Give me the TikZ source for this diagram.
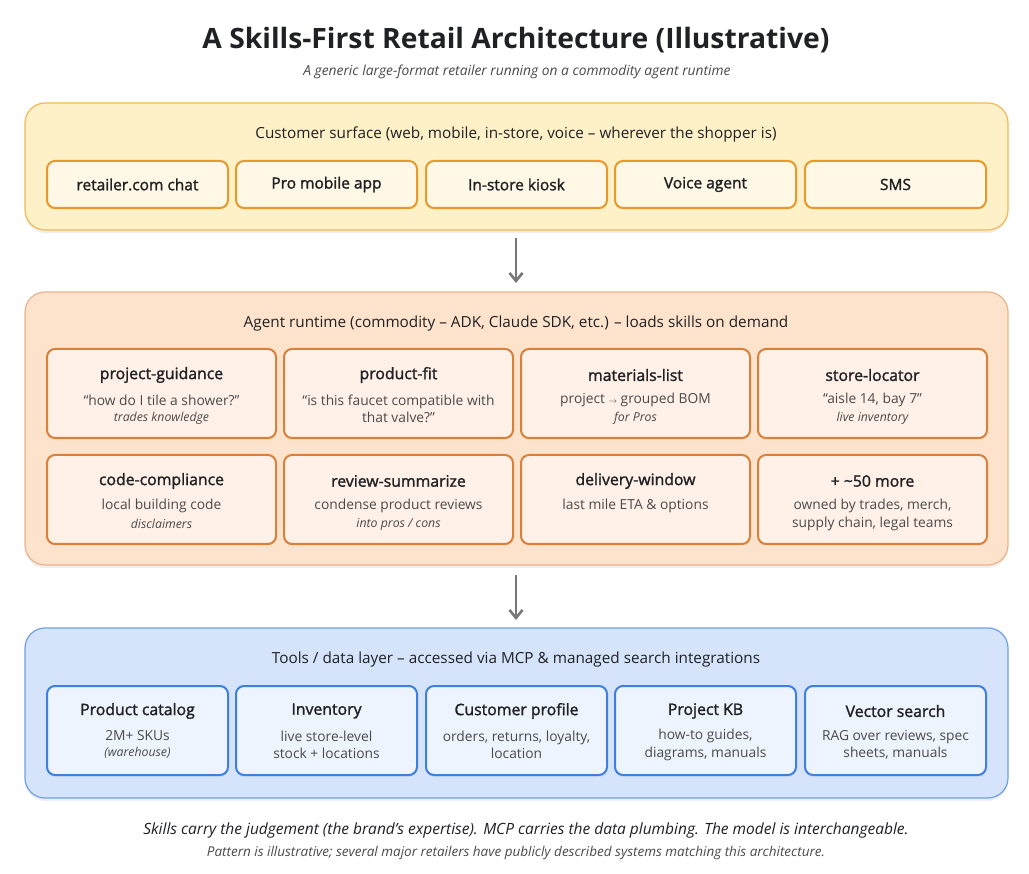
\documentclass[tikz,border=0pt]{standalone}
\usepackage{fontspec}
\setmainfont{Open Sans}
\newfontfamily\semib{Open Sans}[FakeBold=1.6]
\usetikzlibrary{shadows,arrows.meta}
\definecolor{ypanel}{HTML}{FEF0C7}
\definecolor{yline}{HTML}{F2B857}
\definecolor{ybox}{HTML}{FFF8E6}
\definecolor{yboxline}{HTML}{E69A2A}
\definecolor{opanel}{HTML}{FDE2CC}
\definecolor{oline}{HTML}{EBB389}
\definecolor{obox}{HTML}{FFF1E8}
\definecolor{oboxline}{HTML}{D9813A}
\definecolor{bpanel}{HTML}{D5E4FA}
\definecolor{bline}{HTML}{6E9FE6}
\definecolor{bbox}{HTML}{EEF4FD}
\definecolor{bboxline}{HTML}{3E7FE0}
\definecolor{txt}{HTML}{202124}
\definecolor{subtxt}{HTML}{4A4A4A}
\definecolor{arrowgray}{HTML}{777777}
\tikzset{
  panel/.style={rounded corners=20pt, line width=1.2pt, drop shadow={opacity=0.12, shadow xshift=0pt, shadow yshift=-3pt}},
  cbox/.style={rounded corners=8pt, line width=2pt, drop shadow={opacity=0.08, shadow xshift=0pt, shadow yshift=-2pt}},
  hdr/.style={font=\fontsize{15.3}{18}\selectfont, text=txt, anchor=center},
  boxtitle/.style={font=\semib\fontsize{15.8}{18}\selectfont, text=txt},
  boxsub/.style={font=\fontsize{13.8}{17.5}\selectfont, text=subtxt, align=center},
  boxit/.style={font=\itshape\fontsize{12.3}{14}\selectfont, text=subtxt},
  flowarrow/.style={draw=arrowgray, line width=2.6pt, -{Straight Barb[length=8pt,width=13pt,line width=2.6pt]}}
}
\newcommand{\ybx}[3]{\node[cbox, draw=yboxline, fill=ybox, minimum width=181pt, minimum height=47pt, font=\semib\fontsize{15.5}{17}\selectfont, text=txt] (#1) at (#2,184.5) {#3};}
\begin{document}
\begin{tikzpicture}[x=1pt,y=-1pt]
\useasboundingbox (0,0) rectangle (1029,874);
\fill[white] (0,0) rectangle (1029,874);
% title
\node[text=txt] (title) at (516,40) {\resizebox{627pt}{\height}{\bfseries\fontsize{28}{32}\selectfont A Skills-First Retail Architecture (Illustrative)}};
\node[font=\itshape\fontsize{13.8}{16}\selectfont, text=subtxt] (subtitle) at (517,72) {A generic large-format retailer running on a commodity agent runtime};
% panel 1
\draw[panel, draw=yline, fill=ypanel] (25,103) rectangle (1008,230);
\node[hdr] (h1) at (516,134) {Customer surface (web, mobile, in-store, voice -- wherever the shopper is)};
\ybx{c1}{137.5}{retailer.com chat}
\ybx{c2}{326.5}{Pro mobile app}
\ybx{c3}{516.5}{In-store kiosk}
\ybx{c4}{705.5}{Voice agent}
\ybx{c5}{895.5}{SMS}
% panel 2
\draw[panel, draw=oline, fill=opanel] (25,292) rectangle (1008,565);
\node[hdr] (h2) at (516,324) {Agent runtime (commodity -- ADK, Claude SDK, etc.) -- loads skills on demand};
\foreach \nm/\x/\y in {s1/47/349, s2/284/349, s3/521/349, s4/758/349, s5/47/455, s6/284/455, s7/521/455, s8/758/455}{
  \draw[cbox, draw=oboxline, fill=obox] (\x,\y) rectangle ++(229,89);
  \coordinate (\nm) at (\x+114.5,\y);
}
\node[boxtitle] (s1t) at ([yshift=-26pt]s1) {project-guidance};
\node[boxsub] (s1a) at ([yshift=-51pt]s1) {“how do I tile a shower?”};
\node[boxit] (s1b) at ([yshift=-69pt]s1) {trades knowledge};
\node[boxtitle] (s2t) at ([yshift=-26pt]s2) {product-fit};
\node[boxsub] (s2a) at ([yshift=-60pt]s2) {“is this faucet compatible with\\that valve?”};
\node[boxtitle] (s3t) at ([yshift=-26pt]s3) {materials-list};
\node[boxsub] (s3a) at ([yshift=-51pt]s3) {project {\fontsize{8}{10}\selectfont$\rightarrow$} grouped BOM};
\node[boxit] (s3b) at ([yshift=-69pt]s3) {for Pros};
\node[boxtitle] (s4t) at ([yshift=-26pt]s4) {store-locator};
\node[boxsub] (s4a) at ([yshift=-51pt]s4) {“aisle 14, bay 7”};
\node[boxit] (s4b) at ([yshift=-69pt]s4) {live inventory};
\node[boxtitle] (s5t) at ([yshift=-26pt]s5) {code-compliance};
\node[boxsub] (s5a) at ([yshift=-51pt]s5) {local building code};
\node[boxit] (s5b) at ([yshift=-69pt]s5) {disclaimers};
\node[boxtitle] (s6t) at ([yshift=-26pt]s6) {review-summarize};
\node[boxsub] (s6a) at ([yshift=-51pt]s6) {condense product reviews};
\node[boxit] (s6b) at ([yshift=-69pt]s6) {into pros / cons};
\node[boxtitle] (s7t) at ([yshift=-26pt]s7) {delivery-window};
\node[boxsub] (s7a) at ([yshift=-51pt]s7) {last mile ETA \& options};
\node[boxtitle] (s8t) at ([yshift=-26pt]s8) {+ \textasciitilde50 more};
\node[boxsub] (s8a) at ([yshift=-60pt]s8) {owned by trades, merch,\\supply chain, legal teams};
% panel 3
\draw[panel, draw=bline, fill=bpanel] (25,628) rectangle (1008,798);
\node[hdr] (h3) at (516,660) {Tools / data layer -- accessed via MCP \& managed search integrations};
\foreach \nm/\x in {t1/47, t2/236, t3/426, t4/615, t5/805}{
  \draw[cbox, draw=bboxline, fill=bbox] (\x,686) rectangle ++(181,89);
  \coordinate (\nm) at (\x+90.5,686);
}
\node[boxtitle] (t1t) at ([yshift=-25pt]t1) {Product catalog};
\node[boxsub] (t1a) at ([yshift=-50pt]t1) {2M+ SKUs};
\node[boxit] (t1b) at ([yshift=-67pt]t1) {(warehouse)};
\node[boxtitle] (t2t) at ([yshift=-25pt]t2) {Inventory};
\node[boxsub] (t2a) at ([yshift=-59pt]t2) {live store-level\\stock + locations};
\node[boxtitle] (t3t) at ([yshift=-25pt]t3) {Customer profile};
\node[boxsub] (t3a) at ([yshift=-59pt]t3) {orders, returns, loyalty,\\location};
\node[boxtitle] (t4t) at ([yshift=-25pt]t4) {Project KB};
\node[boxsub] (t4a) at ([yshift=-59pt]t4) {how-to guides,\\diagrams, manuals};
\node[boxtitle] (t5t) at ([yshift=-25pt]t5) {Vector search};
\node[boxsub] (t5a) at ([yshift=-59pt]t5) {RAG over reviews, spec\\sheets, manuals};
% arrows
\coordinate (a1s) at (516,238);
\coordinate (a1e) at (516,283);
\coordinate (a2s) at (516,575);
\coordinate (a2e) at (516,620);
\draw[flowarrow] (a1s) -- (a1e);
\draw[flowarrow] (a2s) -- (a2e);
% footer
\node[font=\itshape\fontsize{15.5}{18}\selectfont, text=txt] (foot1) at (526,830) {Skills carry the judgement (the brand’s expertise). MCP carries the data plumbing. The model is interchangeable.};
\node[font=\itshape\fontsize{13.5}{16}\selectfont, text=subtxt] (foot2) at (516,853) {Pattern is illustrative; several major retailers have publicly described systems matching this architecture.};
\end{tikzpicture}
\end{document}
